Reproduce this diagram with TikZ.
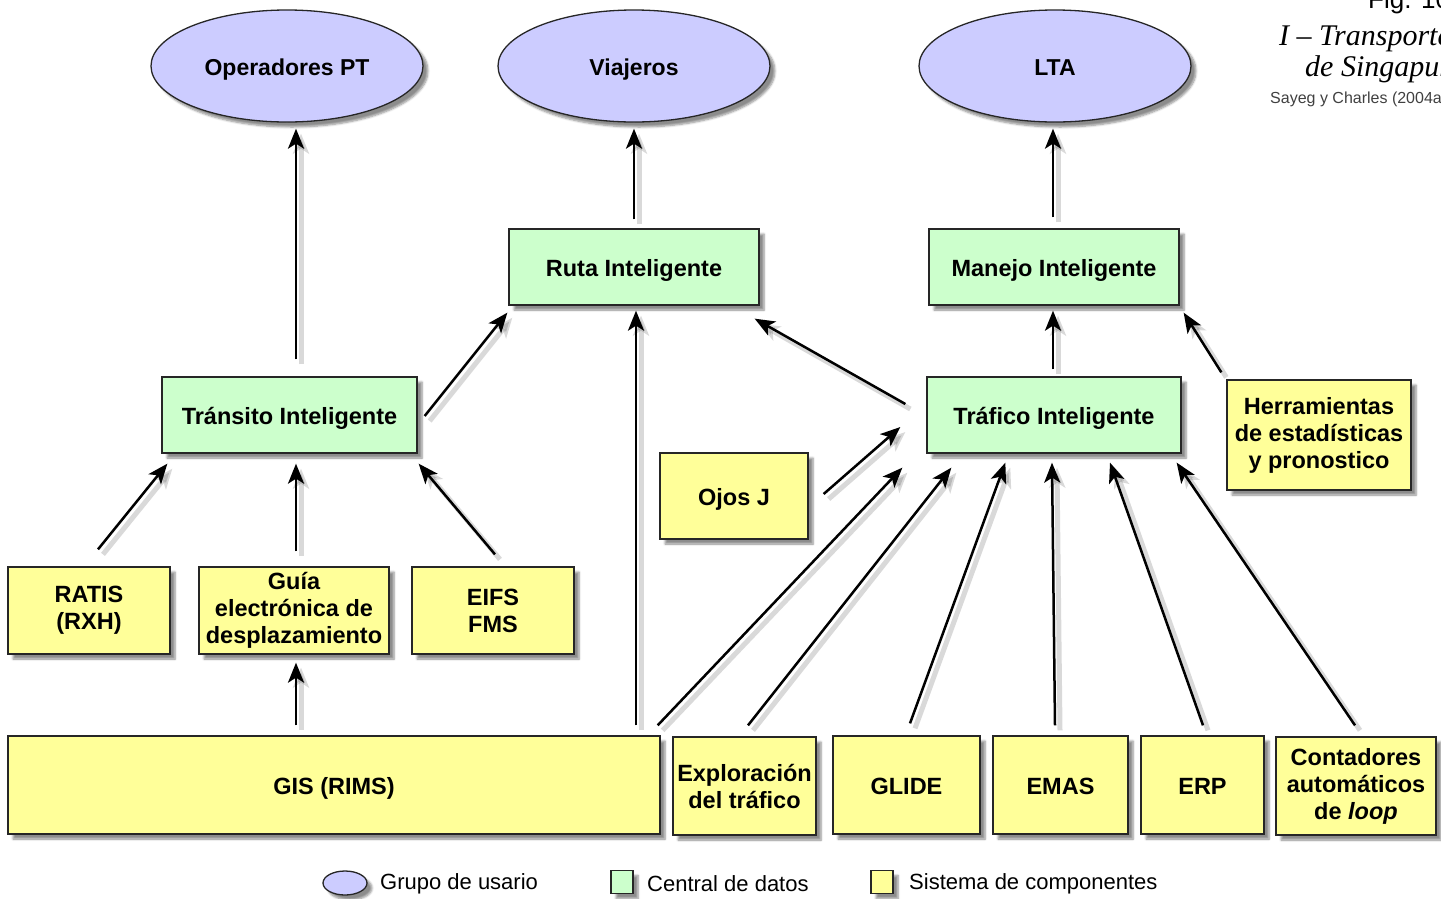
\documentclass[tikz,border=0pt]{standalone}
\usepackage{fontspec}
\setmainfont{Liberation Sans}
\newfontfamily\serifit{Liberation Serif}
\usetikzlibrary{arrows.meta,shapes.geometric,calc,shadows.blur}
\definecolor{ublue}{HTML}{CCCCFF}
\definecolor{dgreen}{HTML}{CCFFCC}
\definecolor{cyell}{HTML}{FFFF99}
\tikzset{
  shad/.style={blur shadow={shadow xshift=5pt,shadow yshift=-5pt,shadow blur steps=6,shadow opacity=45}},
  base/.style={draw=black!85,line width=1.3pt,inner sep=0pt,align=center,shad,
    font=\fontsize{23.5}{27}\selectfont\bfseries},
  one/.style={text height=18pt,text depth=0pt},
  ebox/.style={base,one,ellipse,fill=ublue,font=\fontsize{23}{27}\selectfont\bfseries},
  gbox/.style={base,one,rectangle,fill=dgreen},
  ybox/.style={base,rectangle,fill=cyell},
  arr/.style={line width=2.5pt,-{Stealth[length=20pt,width=16pt,inset=5pt]},
    preaction={draw=black,opacity=0.15,line width=5pt,transform canvas={shift={(5pt,-5pt)}}}},
  legt/.style={anchor=west,inner sep=0pt,font=\fontsize{22}{24}\selectfont},
}
\begin{document}
\begin{tikzpicture}[x=1pt,y=-1pt]
\useasboundingbox (0,0) rectangle (1441,898);
\clip (0,0) rectangle (1441,898);
% user groups
\node[ebox,minimum width=272pt,minimum height=112pt] (opt) at (287,66) {Operadores PT};
\node[ebox,minimum width=272pt,minimum height=112pt] (via) at (634,66) {Viajeros};
\node[ebox,minimum width=272pt,minimum height=112pt] (lta) at (1055,66) {LTA};
% data centrals
\node[gbox,minimum width=250pt,minimum height=76pt] (ruta) at (634,267) {Ruta Inteligente};
\node[gbox,minimum width=250pt,minimum height=76pt] (man) at (1054,267) {Manejo Inteligente};
\node[gbox,minimum width=255pt,minimum height=76pt] (tran) at (289.5,415) {Tránsito Inteligente};
\node[gbox,minimum width=254pt,minimum height=76pt] (traf) at (1054,415) {Tráfico Inteligente};
% components
\node[ybox,one,minimum width=148pt,minimum height=86pt] (ojos) at (734,496) {Ojos J};
\node[ybox,minimum width=184pt,minimum height=110pt] (herr) at (1319,435) {Herramientas\\de estadísticas\\y pronostico};
\node[ybox,minimum width=162pt,minimum height=87pt] (ratis) at (89,610.5) {RATIS\\(RXH)};
\node[ybox,minimum width=190pt,minimum height=87pt] (guia) at (294,610.5) {Guía\\electrónica de\\desplazamiento};
\node[ybox,minimum width=162pt,minimum height=87pt] (eifs) at (493,610.5) {EIFS\\FMS};
\node[ybox,one,minimum width=652pt,minimum height=98pt] (gis) at (334,785) {GIS (RIMS)};
\node[ybox,minimum width=143pt,minimum height=98pt] (expl) at (744.5,786) {Exploración\\del tráfico};
\node[ybox,one,minimum width=147pt,minimum height=98pt] (glide) at (906.5,785) {GLIDE};
\node[ybox,one,minimum width=135pt,minimum height=98pt] (emas) at (1060.5,785) {EMAS};
\node[ybox,one,minimum width=123pt,minimum height=98pt] (erp) at (1202.5,785) {ERP};
\node[ybox,minimum width=160pt,minimum height=98pt] (cont) at (1356,786) {Contadores\\automáticos\\de \textit{loop}};
% arrows
\draw[arr] ($(tran.north)+(6.5,-17)$) -- ($(opt.south)+(9,6)$);
\draw[arr] ($(ruta.north)+(0,-9)$) -- ($(via.south)+(0,6)$);
\draw[arr] ($(man.north)+(-1,-11)$) -- ($(lta.south)+(-2,6)$);
\draw[arr] ($(tran.east)+(7,1)$) -- ($(ruta.south west)+(-1,7)$);
\draw[arr] ($(gis.north)+(302,-10)$) -- ($(ruta.south)+(2,5)$);
\draw[arr] ($(traf.west)+(-21,-11)$) -- ($(ruta.south east)+(-5,13)$);
\draw[arr] ($(traf.north)+(-1,-7)$) -- ($(man.south)+(-1,5)$);
\draw[arr] ($(herr.north west)+(-5,-7)$) -- ($(man.south east)+(4,7)$);
\draw[arr] ($(ojos.east)+(15,-2)$) -- ($(traf.west)+(-26,12)$);
\draw[arr] ($(gis.north east)+(-3,-10)$) -- ($(traf.south west)+(-24,14)$);
\draw[arr] ($(expl.north)+(3.5,-11)$) -- ($(traf.south west)+(25,14)$);
\draw[arr] ($(glide.north)+(3.5,-12)$) -- ($(traf.south west)+(79,9)$);
\draw[arr] ($(emas.north)+(-5.5,-10)$) -- ($(traf.south)+(-2,9)$);
\draw[arr] ($(erp.north)+(0.5,-10)$) -- ($(traf.south)+(56,9)$);
\draw[arr] ($(cont.north)+(-1,-11)$) -- ($(traf.south east)+(-5,9)$);
\draw[arr] ($(ratis.north)+(9,-17)$) -- ($(tran.south west)+(6,10)$);
\draw[arr] ($(guia.north)+(2,-15)$) -- ($(tran.south)+(6.5,10)$);
\draw[arr] ($(eifs.north)+(2,-12)$) -- ($(tran.south east)+(1,10)$);
\draw[arr] ($(gis.north)+(-38,-10)$) -- ($(guia.south)+(2,8)$);
% legend
\node[base,ellipse,fill=ublue,minimum width=44pt,minimum height=24pt] (le) at (345,883) {};
\node[legt] (lt1) at (380,884) {Grupo de usario};
\node[base,rectangle,fill=dgreen,minimum width=22pt,minimum height=23pt] (lg) at (622,882) {};
\node[legt] (lt2) at (647,884) {Central de datos};
\node[base,rectangle,fill=cyell,minimum width=22pt,minimum height=23pt] (ly) at (882,882) {};
\node[legt] (lt3) at (909,884) {Sistema de componentes};
% caption top right
\node[anchor=base west,inner sep=0pt,font=\fontsize{26}{28}\selectfont] (fig) at (1368,8) {Fig. 10};
\node[anchor=base west,inner sep=0pt,font=\fontsize{30}{33}\selectfont\serifit\itshape] (t1) at (1279,45) {I – Transporte};
\node[anchor=base west,inner sep=0pt,font=\fontsize{30}{33}\selectfont\serifit\itshape] (t2) at (1305,76) {de Singapur};
\node[anchor=base west,inner sep=0pt,font=\fontsize{16}{18}\selectfont,text=black!75] (src) at (1270,103) {Sayeg y Charles (2004a)};
\end{tikzpicture}
\end{document}
